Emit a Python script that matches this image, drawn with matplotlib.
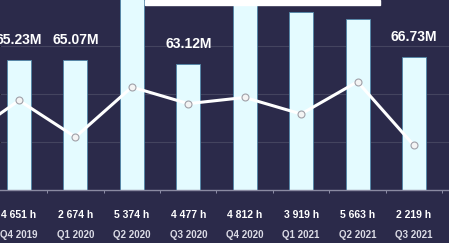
import matplotlib
matplotlib.use("Agg")
import matplotlib.pyplot as plt
from matplotlib.patches import Rectangle
from matplotlib.transforms import blended_transform_factory
import numpy as np

# ---- data ----
quarters = ["Q3 2019", "Q4 2019", "Q1 2020", "Q2 2020", "Q3 2020",
            "Q4 2020", "Q1 2021", "Q2 2021", "Q3 2021"]
revenue_m = [62.10, 65.23, 65.07, 104.60, 63.12, 101.90, 89.05, 85.41, 66.73]
revenue_labels = ["62.10M", "65.23M", "65.07M", "104.60M", "63.12M",
                  "101.90M", "89.05M", "85.41M", "66.73M"]
hours = [2513, 4651, 2674, 5374, 4477, 4812, 3919, 5663, 2219]
hour_labels = ["2 513 h", "4 651 h", "2 674 h", "5 374 h", "4 477 h",
               "4 812 h", "3 919 h", "5 663 h", "2 219 h"]

BG = "#2b2a4a"
BAR = "#e4fbff"
GRID = "#44445f"

W, H = 449, 243
fig = plt.figure(figsize=(W / 100, H / 100), dpi=100, facecolor=BG)
base_px = 190
ax = fig.add_axes([0, 1 - base_px / H, 1, base_px / H])
ax.set_facecolor(BG)

x = np.arange(len(quarters)) - 1  # Q4 2019 at index 0
step = 56.42
left_px = 19

ax.bar(x, revenue_m, width=24 / step, color=BAR, edgecolor="#4f86a8",
       linewidth=0.6, zorder=2)
ax.set_ylim(0, 95)
ax.set_yticks([24, 48, 72])
ax.yaxis.grid(True, color=GRID, linewidth=0.8)
ax.set_axisbelow(True)
ax.tick_params(axis="y", left=False, labelleft=False)

for xi, v, lab in zip(x, revenue_m, revenue_labels):
    ax.annotate(lab, (xi, v), xytext=(0, 14), textcoords="offset points",
                ha="center", va="center", color="white", fontsize=10,
                fontweight="bold", family="Liberation Sans", zorder=5,
                annotation_clip=False)

ax2 = ax.twinx()
ax2.plot(x, hours, color="white", linewidth=2.2, marker="o", markersize=5,
         markerfacecolor="#f4f4f4", markeredgecolor="#a0a0a8",
         markeredgewidth=0.8, zorder=4)
ax2.set_ylim(-190, 10080)
ax2.set_yticks([])
for s in ax2.spines.values():
    s.set_visible(False)

for s in ["top", "left", "right"]:
    ax.spines[s].set_visible(False)
ax.spines["bottom"].set_color("#8a8aa2")
ax.spines["bottom"].set_linewidth(1.0)

ax.set_xticks([])
ax.set_xticks(x + 0.5, minor=True)
ax.tick_params(axis="x", which="minor", length=2, color="#a0a0b8",
               direction="out", labelbottom=False)

ax.set_xlim(-left_px / step, (W - left_px) / step)

trans = blended_transform_factory(ax.transData, ax.transAxes)
for xi, hl, q in zip(x, hour_labels, quarters):
    ax.text(xi, -25 / base_px, hl, transform=trans, ha="center",
            va="center", color="white", fontsize=7.5, fontweight="bold",
            family="Liberation Sans", clip_on=False)
    ax.text(xi, -45 / base_px, q, transform=trans, ha="center",
            va="center", color="#dcdce6", fontsize=7, fontweight="bold",
            family="Liberation Sans", clip_on=False)

fig.patches.append(Rectangle((145 / W, 1 - 5 / H), (380 - 145) / W, 5 / H,
                             transform=fig.transFigure, color="white",
                             zorder=10))

fig.savefig("out.png", dpi=100, facecolor=BG)
